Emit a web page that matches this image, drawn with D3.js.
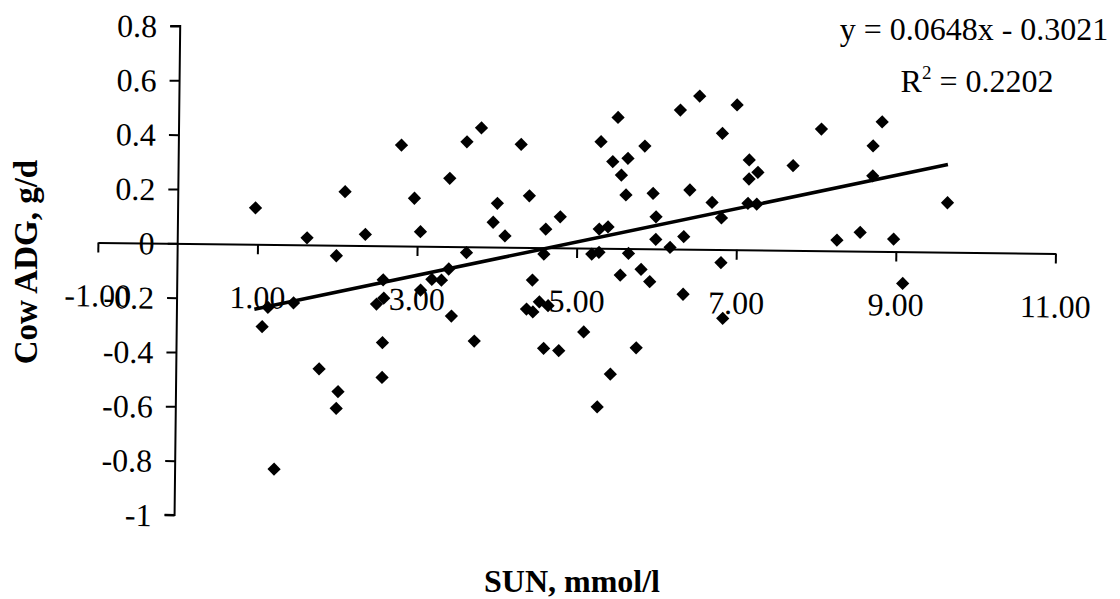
<!DOCTYPE html>
<html>
<head>
<meta charset="utf-8">
<script src="https://cdn.jsdelivr.net/npm/d3@7"></script>
<style>
  body { margin: 0; background: #fff; }
  svg { display: block; }
  text { font-family: "Liberation Serif", "Times New Roman", serif; fill: #000; }
</style>
</head>
<body>
<div id="chart"></div>
<script>
// SUN (mmol/l) vs cow ADG (g/d)
const sunValues = [
  0.97, 1.14, 1.07, 1.24, 1.46, 1.62, 1.79, 1.99, 2.03, 2.01,
  2.09, 2.35, 2.50, 2.59, 2.58, 2.58, 2.58, 2.79, 2.96, 3.04,
  3.05, 3.19, 3.31, 3.40, 3.40, 3.44, 3.61, 3.62, 3.73, 3.79,
  3.95, 4.00, 4.10, 4.29, 4.38, 4.40, 4.45, 4.46, 4.54, 4.60,
  4.59, 4.61, 4.65, 4.79, 4.79, 5.10, 5.19, 5.28, 5.28, 5.28,
  5.29, 5.39, 5.44, 5.44, 5.50, 5.55, 5.55, 5.61, 5.63, 5.65,
  5.76, 5.81, 5.84, 5.92, 5.95, 5.99, 5.99, 6.17, 6.28, 6.34,
  6.34, 6.41, 6.52, 6.69, 6.81, 6.81, 6.81, 6.84, 6.99, 7.15,
  7.15, 7.26, 7.14, 7.25, 7.70, 8.05, 8.26, 8.55, 8.70, 8.70,
  8.81, 8.97, 9.09, 9.64
];
const adgValues = [
  0.134, -0.232, -0.303, -0.827, -0.214, 0.026, -0.456, -0.039, -0.539, -0.601,
  0.197, 0.041, -0.215, -0.193, -0.126, -0.357, -0.485, 0.371, 0.176, 0.053,
  -0.162, -0.122, -0.124, -0.083, 0.251, -0.256, 0.386, -0.022, -0.347, 0.438,
  0.091, 0.161, 0.041, 0.379, -0.227, 0.190, -0.120, -0.237, -0.200, -0.371,
  -0.024, 0.068, -0.214, -0.379, 0.114, -0.309, -0.022, -0.584, 0.070, -0.015,
  0.392, 0.079, -0.463, 0.319, 0.482, -0.098, 0.270, 0.197, 0.332, -0.018,
  -0.365, -0.076, 0.378, -0.121, 0.204, 0.118, 0.035, 0.006, 0.512, 0.046,
  -0.166, 0.218, 0.564, 0.173, 0.117, -0.048, 0.428, -0.253, 0.533, 0.331,
  0.261, 0.286, 0.171, 0.169, 0.312, 0.448, 0.040, 0.069, 0.388, 0.278,
  0.477, 0.046, -0.117, 0.182
];
const xTicks = [-1, 1, 3, 5, 7, 9, 11];
const xTickLabels = ["-1.00", "1.00", "3.00", "5.00", "7.00", "9.00", "11.00"];
const yTicks = [0.8, 0.6, 0.4, 0.2, 0, -0.2, -0.4, -0.6, -0.8, -1];
const yTickLabels = ["0.8", "0.6", "0.4", "0.2", "0", "-0.2", "-0.4", "-0.6", "-0.8", "-1"];
const trendSlope = 0.0648;
const trendIntercept = -0.3021;
const trendR2 = "0.2202";

const width = 1120, height = 599;
const fontSize = 32;

const svg = d3.select("#chart").append("svg")
  .attr("width", width)
  .attr("height", height);

const x = d3.scaleLinear().domain([-1, 11]).range([97.9, 1055.5]);
const y = d3.scaleLinear().domain([-1, 0.8]).range([515, 26]);

// the scanned page sits a little crooked, so the plot is turned to match it
const plot = svg.append("g")
  .attr("transform", `rotate(0.66, ${x(0)}, ${y(0)})`);

// y axis through x = 0
const yAxis = d3.axisLeft(y)
  .tickValues(yTicks)
  .tickSize(10)
  .tickFormat((d, i) => yTickLabels[i]);
const yG = plot.append("g")
  .attr("transform", `translate(${x(0)},0)`)
  .call(yAxis);
yG.select(".domain").attr("stroke", "#000").attr("stroke-width", 2).attr("d", `M-10,${y(0.8)}H0V${y(-1)}H-10`);
yG.selectAll(".tick line").attr("stroke", "#000").attr("stroke-width", 2);
yG.selectAll(".tick text")
  .attr("x", -23)
  .attr("dy", "0.34em")
  .style("font-size", fontSize + "px")
  .style("font-family", "Liberation Serif, serif");

// x axis through y = 0, labels hang well below it
const xAxis = d3.axisBottom(x)
  .tickValues(xTicks)
  .tickSize(10)
  .tickSizeOuter(0)
  .tickFormat((d, i) => xTickLabels[i]);
const xG = plot.append("g")
  .attr("transform", `translate(0,${y(0)})`)
  .call(xAxis);
xG.select(".domain").attr("stroke", "#000").attr("stroke-width", 2);
xG.selectAll(".tick line").attr("stroke", "#000").attr("stroke-width", 2);
xG.selectAll(".tick text")
  .attr("y", 64)
  .attr("dy", 0)
  .style("font-size", fontSize + "px")
  .style("font-family", "Liberation Serif, serif");

// linear trend line over the data range
const xMin = d3.min(sunValues), xMax = d3.max(sunValues);
const trend = [xMin, xMax].map(v => [v, trendSlope * v + trendIntercept]);
plot.append("path")
  .datum(trend)
  .attr("fill", "none")
  .attr("stroke", "#000")
  .attr("stroke-width", 3.5)
  .attr("d", d3.line().x(d => x(d[0])).y(d => y(d[1])));

// diamond markers
const diamond = d3.symbol().type(d3.symbolSquare).size(88);
plot.append("g")
  .selectAll("path")
  .data(sunValues.map((v, i) => ({ sun: v, adg: adgValues[i] })))
  .join("path")
  .attr("d", diamond)
  .attr("fill", "#000")
  .attr("transform", d => `translate(${x(d.sun)},${y(d.adg)}) rotate(45)`);

// axis titles
svg.append("text")
  .attr("x", 572)
  .attr("y", 592)
  .attr("text-anchor", "middle")
  .style("font-size", fontSize + "px")
  .style("font-weight", "bold")
  .text("SUN, mmol/l");

svg.append("text")
  .attr("transform", "translate(37,262) rotate(-90)")
  .attr("text-anchor", "middle")
  .style("font-size", "33px")
  .style("font-weight", "bold")
  .text("Cow ADG, g/d");

// trend equation
svg.append("text")
  .attr("x", 974)
  .attr("y", 40)
  .attr("text-anchor", "middle")
  .style("font-size", fontSize + "px")
  .text(`y = ${trendSlope}x - ${Math.abs(trendIntercept)}`);

const r2 = svg.append("text")
  .attr("x", 977)
  .attr("y", 92)
  .attr("text-anchor", "middle")
  .style("font-size", fontSize + "px");
r2.append("tspan").text("R");
r2.append("tspan").attr("dy", -13).style("font-size", "19px").text("2");
r2.append("tspan").attr("dy", 13).text(` = ${trendR2}`);
</script>
</body>
</html>
